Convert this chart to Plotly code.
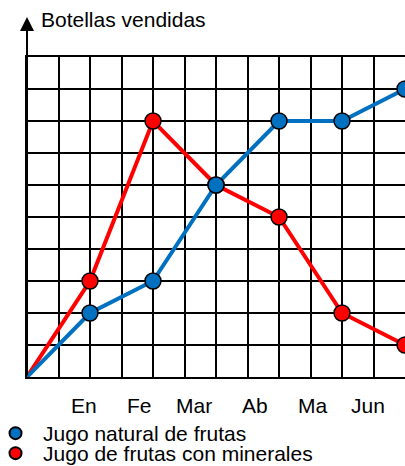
import plotly.graph_objects as go

months = ["En", "Fe", "Mar", "Ab", "Ma", "Jun"]
month_x = [2, 4, 6, 8, 10, 12]
label_x = [1.82, 3.58, 5.30, 7.24, 9.06, 10.83]
natural = [2, 3, 6, 8, 8, 9]
minerales = [3, 8, 6, 5, 2, 1]
origin_x = 0
origin_y = 0

BLUE = "#0070C0"
RED = "#FF0000"
FONT = "Liberation Sans, Arial, sans-serif"

fig = go.Figure()

# lines (starting at origin)
fig.add_trace(go.Scatter(x=[origin_x] + month_x, y=[origin_y] + minerales, mode="lines",
                         line=dict(color=RED, width=4), showlegend=False, hoverinfo="skip",
                         cliponaxis=False))
fig.add_trace(go.Scatter(x=[origin_x] + month_x, y=[origin_y] + natural, mode="lines",
                         line=dict(color=BLUE, width=4), showlegend=False, hoverinfo="skip",
                         cliponaxis=False))
# markers
fig.add_trace(go.Scatter(x=month_x, y=minerales, mode="markers",
                         marker=dict(color=RED, size=16, line=dict(color="black", width=1.5)),
                         showlegend=False, cliponaxis=False))
fig.add_trace(go.Scatter(x=month_x, y=natural, mode="markers",
                         marker=dict(color=BLUE, size=16, line=dict(color="black", width=1.5)),
                         showlegend=False, cliponaxis=False))

# legend entries
fig.add_trace(go.Scatter(x=[None], y=[None], mode="markers", name="Jugo natural de frutas",
                         legend="legend",
                         marker=dict(color=BLUE, size=16, line=dict(color="black", width=1.5))))
fig.add_trace(go.Scatter(x=[None], y=[None], mode="markers", name="Jugo de frutas con minerales",
                         legend="legend2",
                         marker=dict(color=RED, size=16, line=dict(color="black", width=1.5))))

annotations = []
for lab, lx in zip(months, label_x):
    annotations.append(dict(x=lx, y=-0.088, xref="x", yref="paper", text=lab, showarrow=False,
                            xanchor="center", yanchor="middle",
                            font=dict(size=21, color="black", family=FONT)))
# y-axis arrow
annotations.append(dict(x=0, y=1.125, xref="paper", yref="paper", text="", showarrow=True,
                        ax=0, ay=360, axref="pixel", ayref="pixel",
                        arrowhead=2, arrowsize=1.4, arrowwidth=2, arrowcolor="black"))
annotations.append(dict(x=0.031, y=1.116, xref="paper", yref="paper", text="Botellas vendidas",
                        showarrow=False, xanchor="left", yanchor="middle",
                        font=dict(size=21, color="black", family=FONT)))

legend_style = dict(xanchor="left", yanchor="top", orientation="v",
                    bgcolor="rgba(0,0,0,0)", font=dict(size=21, color="black", family=FONT),
                    itemsizing="constant", tracegroupgap=0, itemwidth=45)

fig.update_layout(
    width=405, height=466,
    margin=dict(l=27, r=0, t=57, b=89, autoexpand=False),
    paper_bgcolor="white", plot_bgcolor="white",
    font=dict(family=FONT, size=21, color="black"),
    xaxis=dict(range=[0, 12], dtick=1, tick0=0, showgrid=True, gridcolor="black", gridwidth=2,
               showticklabels=False, ticks="", zeroline=False,
               showline=True, mirror=True, linecolor="black", linewidth=2, fixedrange=True),
    yaxis=dict(range=[0, 10], dtick=1, tick0=0, showgrid=True, gridcolor="black", gridwidth=2,
               showticklabels=False, ticks="", zeroline=False,
               showline=True, mirror=True, linecolor="black", linewidth=2, fixedrange=True),
    legend=dict(x=-0.1031, y=-0.1125, **legend_style),
    legend2=dict(x=-0.1031, y=-0.175, **legend_style),
    annotations=annotations,
    showlegend=True,
)

fig.write_html(
    "out.html",
    config={"displayModeBar": False},
    post_script="document.body.style.margin='0';document.body.style.overflow='hidden';",
)
